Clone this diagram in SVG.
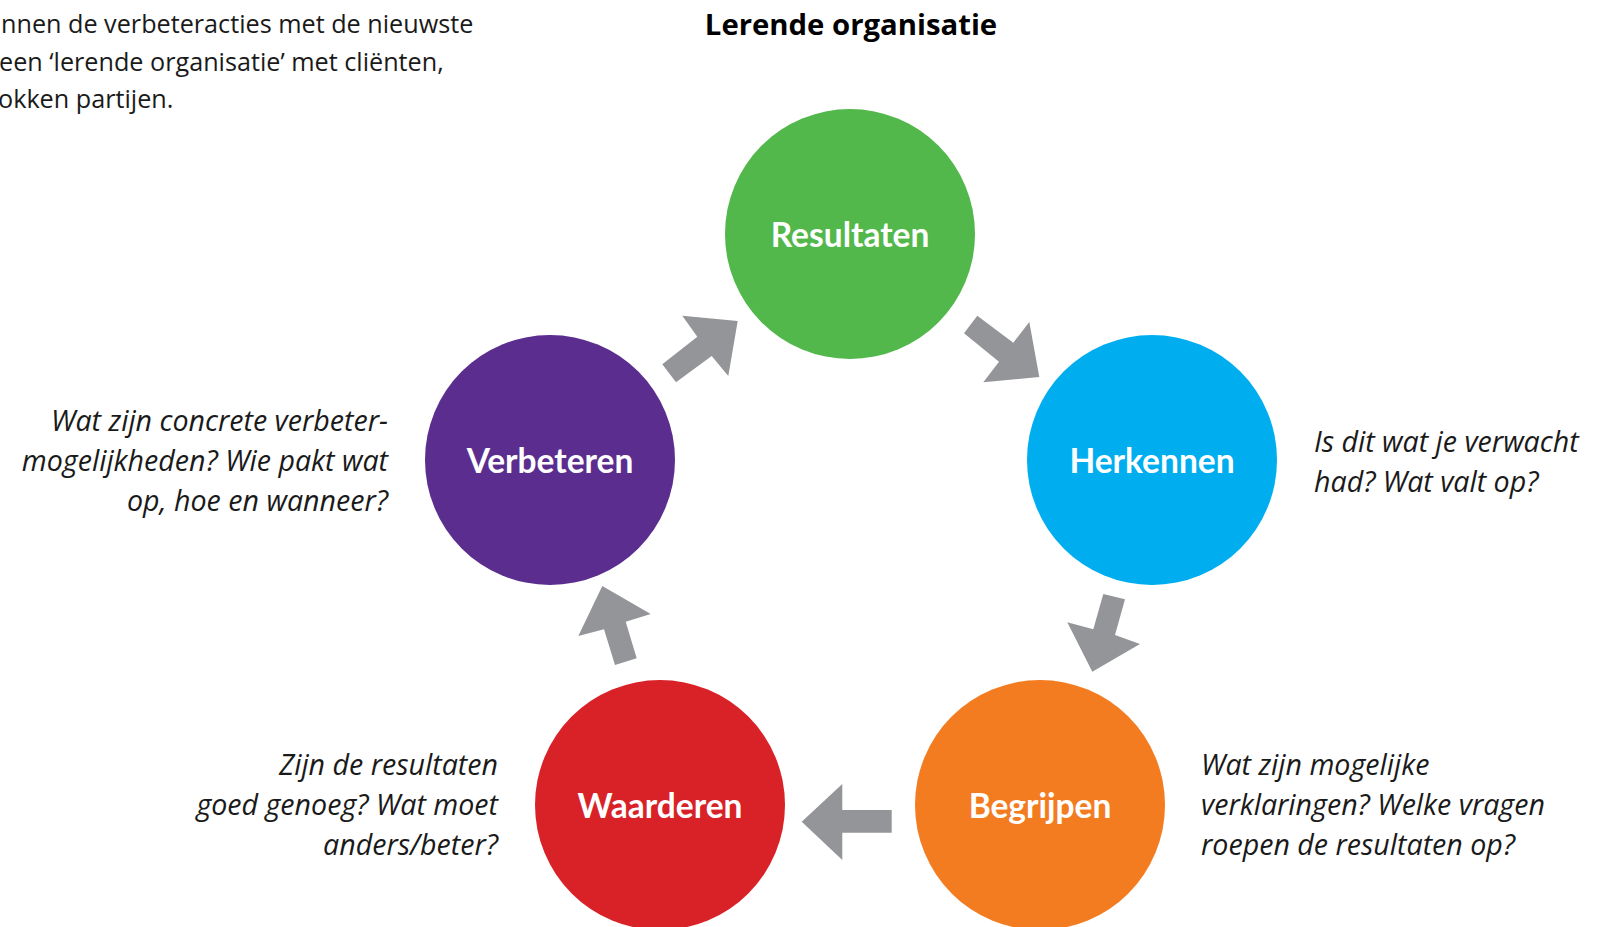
<svg xmlns="http://www.w3.org/2000/svg" width="1605" height="927" viewBox="0 0 1605 927">
<style>
.intro{font-family:"Open Sans","Noto Sans",sans-serif;font-size:25.2px;fill:#1a1a1a}
.title{font-family:"Open Sans","Noto Sans",sans-serif;font-size:29.3px;font-weight:bold;fill:#000}
.lbl{font-family:Lato,"Open Sans",sans-serif;font-size:33.5px;font-weight:bold;fill:#fff;text-anchor:middle}
.q{font-family:"Open Sans","Noto Sans",sans-serif;font-size:28.6px;font-style:italic;fill:#1a1a1a}
.qr{text-anchor:end}
.arrow{fill:#939598}
</style>
<rect width="1605" height="927" fill="#fff"/>
<g id="intro">
<text class="intro" x="1" y="33">nnen de verbeteracties met de nieuwste</text>
<text class="intro" x="-1" y="71">een ‘lerende organisatie’ met cliënten,</text>
<text class="intro" x="-2" y="108">okken partijen.</text>
</g>
<text class="title" x="851" y="35" text-anchor="middle">Lerende organisatie</text>
<g id="connectors">
<polygon class="arrow" points="682.3,315.7 737.7,321 728.3,376 711.7,356 676,382.3 662.3,364.3 697.3,336.7"/>
<polygon class="arrow" points="964,333.3 977.3,315.7 1013.3,342.7 1029.3,322 1039.3,377 983.3,382.3 999,361.7"/>
<polygon class="arrow" points="1103.3,594 1125,599.3 1115,635 1140,644 1092.3,671.7 1067.3,622.3 1093.3,629.3"/>
<polygon class="arrow" points="891.7,810 842.3,810 842.3,784 801.7,821.7 842.3,860 842.3,832.7 891.7,832.7"/>
<polygon class="arrow" points="602.3,586 650.7,614 625.7,621.7 636.7,658.3 615,665 604,629.3 578.3,636"/>
</g>
<g id="resultaten">
<circle cx="850" cy="234" r="125" fill="#52b84b"/>
<text class="lbl" x="850" y="247">Resultaten</text>
</g>
<g id="herkennen">
<circle cx="1152" cy="460" r="125" fill="#00aeef"/>
<text class="lbl" x="1152" y="473">Herkennen</text>
<text class="q" x="1314" y="452">Is dit wat je verwacht</text>
<text class="q" x="1314" y="492">had? Wat valt op?</text>
</g>
<g id="begrijpen">
<circle cx="1040" cy="805" r="125" fill="#f47c20"/>
<text class="lbl" x="1040" y="818">Begrijpen</text>
<text class="q" x="1201" y="775">Wat zijn mogelijke</text>
<text class="q" x="1201" y="815">verklaringen? Welke vragen</text>
<text class="q" x="1201" y="855">roepen de resultaten op?</text>
</g>
<g id="waarderen">
<circle cx="660" cy="805" r="125" fill="#d92128"/>
<text class="lbl" x="660" y="818">Waarderen</text>
<text class="q qr" x="498" y="775">Zijn de resultaten</text>
<text class="q qr" x="498" y="815">goed genoeg? Wat moet</text>
<text class="q qr" x="498" y="855">anders/beter?</text>
</g>
<g id="verbeteren">
<circle cx="550" cy="460" r="125" fill="#5b2d8e"/>
<text class="lbl" x="550" y="473">Verbeteren</text>
<text class="q qr" x="388" y="431">Wat zijn concrete verbeter-</text>
<text class="q qr" x="388" y="471">mogelijkheden? Wie pakt wat</text>
<text class="q qr" x="388" y="511">op, hoe en wanneer?</text>
</g>
</svg>
